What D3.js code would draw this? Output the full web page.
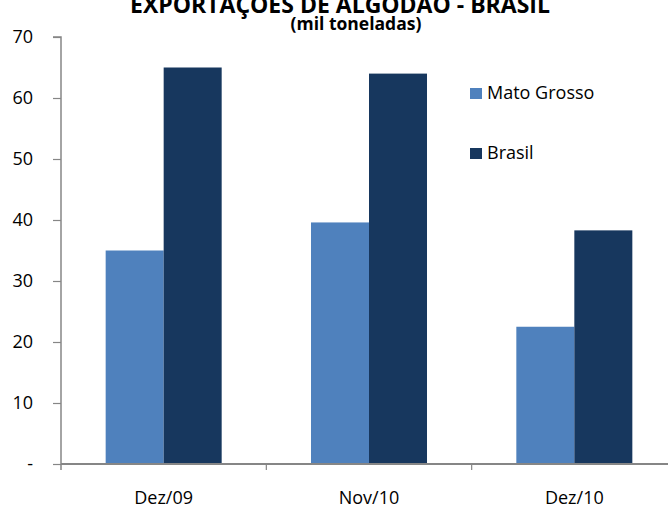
<!DOCTYPE html>
<html><head><meta charset="utf-8">
<script src="https://cdn.jsdelivr.net/npm/d3@7"></script>
<style>body{margin:0;background:#fff}svg{display:block}text{font-family:"Open Sans",Lato,sans-serif}</style>
</head><body>
<svg id="c" width="668" height="510"></svg>
<script>
const categories = ["Dez/09", "Nov/10", "Dez/10"];
const seriesNames = ["Mato Grosso", "Brasil"];
const matoGrosso = [35.0, 39.6, 22.5];
const brasil = [65.0, 64.0, 38.3];
const yTicks = [0, 10, 20, 30, 40, 50, 60, 70];
const colors = ["#4F81BD", "#17375E"];

(function () {
const svg = d3.select("#c");
const mLeft = 61, mRight = 677, mTop = 37, mBottom = 464;
const x = d3.scaleBand().domain(categories).range([mLeft, mRight]).paddingInner(0).paddingOuter(0);
const xs = d3.scaleBand().domain(seriesNames).range([0, x.bandwidth()]).paddingInner(0).paddingOuter(0.77);
const y = d3.scaleLinear().domain([0, 70]).range([mBottom, mTop]);
const series = [matoGrosso, brasil];

// bars
seriesNames.forEach((s, si) => {
  svg.append("g").selectAll("rect").data(categories).join("rect")
    .attr("x", c => x(c) + xs(s))
    .attr("width", xs.bandwidth())
    .attr("y", (c, i) => y(series[si][i]))
    .attr("height", (c, i) => y(0) - y(series[si][i]))
    .attr("fill", colors[si]);
});

// y axis
const yAxis = d3.axisLeft(y).tickValues(yTicks).tickSize(8).tickPadding(20)
  .tickFormat(d => d === 0 ? "-" : d);
const gy = svg.append("g").attr("transform", `translate(${mLeft},0)`).call(yAxis);
gy.select(".domain").attr("stroke", "#868686").attr("stroke-width", 1.5).attr("d", `M-8,${mTop}H0V${mBottom + 6}`);
gy.selectAll(".tick line").attr("stroke", "#868686").attr("stroke-width", 1.2);
gy.selectAll(".tick text").attr("font-size", 18).attr("fill", "#000").attr("font-family", '"Open Sans",sans-serif');

// x axis
const gx = svg.append("g").attr("transform", `translate(0,${mBottom})`);
gx.append("line").attr("x1", mLeft).attr("x2", mRight).attr("stroke", "#868686").attr("stroke-width", 2);
gx.selectAll(".xt").data(categories.slice(1)).join("line")
  .attr("x1", c => x(c)).attr("x2", c => x(c)).attr("y1", 0).attr("y2", 6)
  .attr("stroke", "#868686").attr("stroke-width", 1.2);
gx.selectAll(".xl").data(categories).join("text")
  .attr("x", c => x(c) + x.bandwidth() / 2).attr("y", 40)
  .attr("text-anchor", "middle").attr("font-size", 18).attr("fill", "#000")
  .text(c => c);

// title
svg.append("text").attr("x", 340).attr("y", 13).attr("text-anchor", "middle")
  .attr("font-size", 23).attr("font-weight", "bold").text("EXPORTAÇÕES DE ALGODÃO - BRASIL");
svg.append("text").attr("x", 356).attr("y", 30).attr("text-anchor", "middle")
  .attr("font-size", 17.5).attr("font-weight", "bold").text("(mil toneladas)");

// legend
const lg = svg.append("g").selectAll("g").data(seriesNames).join("g")
  .attr("transform", (d, i) => `translate(470,${88 + i * 60})`);
lg.append("rect").attr("width", 12).attr("height", 11).attr("fill", (d, i) => colors[i]);
lg.append("text").attr("x", 17).attr("y", 11).attr("font-size", 18).attr("fill", "#000").text(d => d);
})();
</script>
</body></html>
